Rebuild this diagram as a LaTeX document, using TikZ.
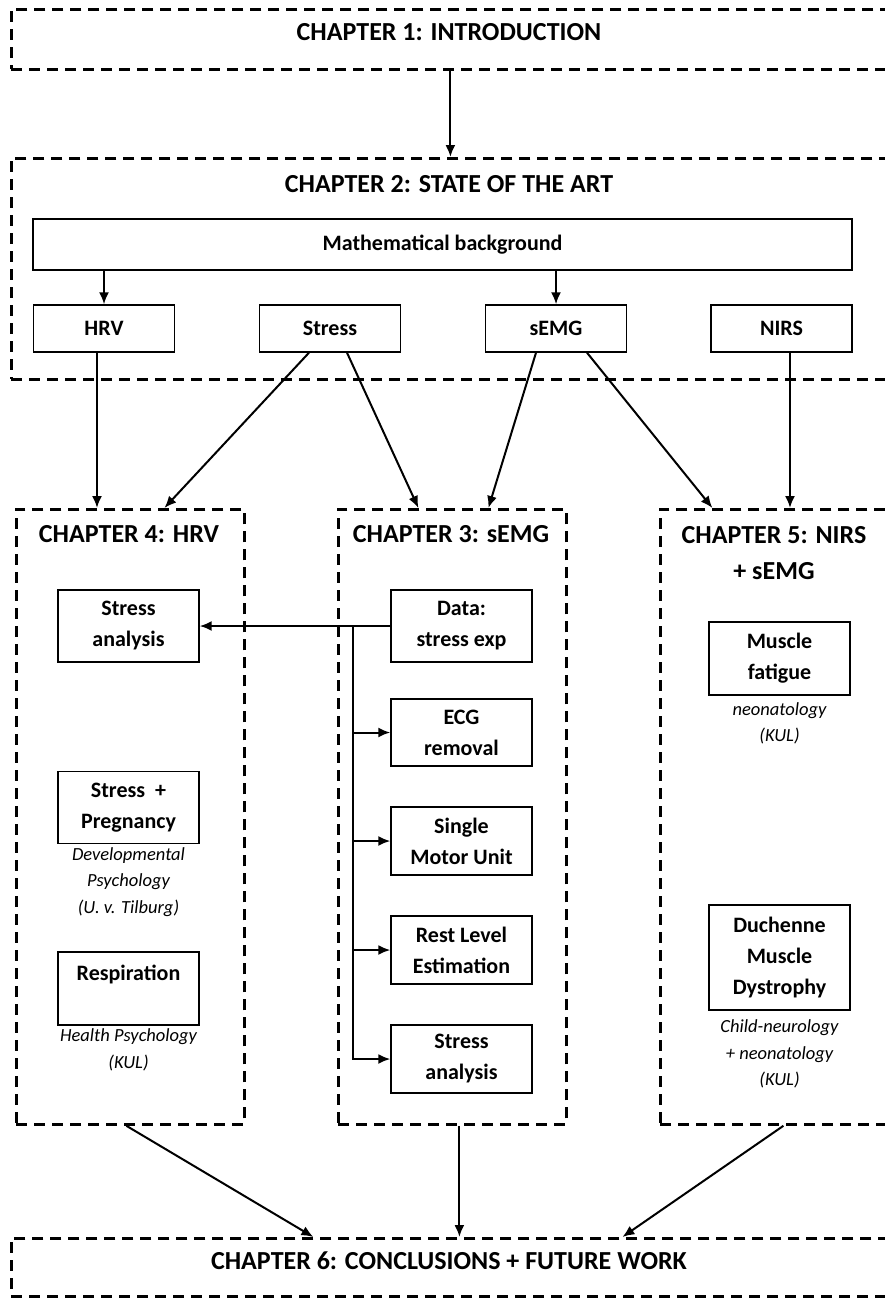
\documentclass[tikz,border=0pt]{standalone}
\usepackage{fontspec}
\setmainfont{Carlito}
\usetikzlibrary{arrows.meta,positioning,calc}

\begin{document}
\begin{tikzpicture}[
        x=1pt, y=-1pt,
        chapter/.style={draw, line width=2.8pt, dash pattern=on 11pt off 7pt, anchor=north west, inner sep=0pt},
        title/.style={font=\fontsize{26}{36}\selectfont\bfseries, align=center},
        box/.style={draw, line width=1.4pt, minimum width=141pt, minimum height=72pt, inner sep=0pt, align=center, font=\fontsize{22}{31}\selectfont\bfseries},
        note/.style={font=\fontsize{18.5}{26.5}\selectfont\itshape, align=center},
        arrow/.style={draw, -{Latex[length=12pt, width=10pt]}, line width=2pt},
    ]
    \useasboundingbox (0,0) rectangle (885,1298);
    \clip (0,0) rectangle (885,1298);

    % chapter frames
    \node[chapter, minimum width=878pt, minimum height=60pt] (ch1) at (10,8) {};
    \node[title] (ch1t) at (449,32) {CHAPTER 1: INTRODUCTION};
    \node[chapter, minimum width=878pt, minimum height=221pt] (ch2) at (10,157) {};
    \node[title] (ch2t) at (449,184) {CHAPTER 2: STATE OF THE ART};
    \node[chapter, minimum width=228pt, minimum height=615pt] (ch4) at (15,508) {};
    \node[title] (ch4t) at (129,534) {CHAPTER 4: HRV};
    \node[chapter, minimum width=228pt, minimum height=615pt] (ch3) at (337,508) {};
    \node[title] (ch3t) at (451,534) {CHAPTER 3: sEMG};
    \node[chapter, minimum width=228pt, minimum height=615pt] (ch5) at (659,508) {};
    \node[title] (ch5t) at (774,553) {CHAPTER 5: NIRS\\+ sEMG};
    \node[chapter, minimum width=878pt, minimum height=58pt] (ch6) at (10,1237) {};
    \node[title] (ch6t) at (449,1261) {CHAPTER 6: CONCLUSIONS + FUTURE WORK};

    % state of the art
    \node[box, minimum width=819pt, minimum height=51pt] (math) at (442.5,244.5) {Mathematical background};
    \node[box, minimum height=47pt] (hrv) at (104,328.5) {HRV};
    \node[box, minimum height=47pt] (stress) at (330,328.5) {Stress};
    \node[box, minimum height=47pt] (semg) at (556,328.5) {sEMG};
    \node[box, minimum height=47pt] (nirs) at (781.5,328.5) {NIRS};

    % HRV
    \node[box] (hrvstress) at (128.5,626) {Stress\\analysis};
    \node[box] (preg) at (128.5,807.5) {Stress~~+\\Pregnancy};
    \node[note] (pregnote) at (128.5,882) {Developmental\\Psychology\\(U. v. Tilburg)};
    \node[box, minimum height=73pt] (resp) at (128.5,988.5) {Respiration\\\mbox{}};
    \node[note] (respnote) at (128.5,1050) {Health Psychology\\(KUL)};

    % sEMG
    \node[box] (data) at (461.5,626) {Data:\\stress exp};
    \node[box, minimum height=67pt] (ecg) at (461.5,732.5) {ECG\\removal};
    \node[box, minimum height=68pt] (smu) at (461.5,841) {Single\\Motor Unit};
    \node[box, minimum height=68pt] (rest) at (461.5,950) {Rest Level\\Estimation};
    \node[box, minimum height=68pt] (sana) at (461.5,1059) {Stress\\analysis};
    \coordinate (split) at (353,626);

    % NIRS + sEMG
    \node[box, minimum height=73pt] (fatigue) at (779.5,658.5) {Muscle\\fatigue};
    \node[note] (fatiguenote) at (779.5,723.5) {neonatology\\(KUL)};
    \node[box, minimum height=105pt] (dmd) at (779.5,957.5) {Duchenne\\Muscle\\Dystrophy};
    \node[note] (dmdnote) at (779.5,1054) {Child-neurology\\+ neonatology\\(KUL)};

    % connectors
    \draw[arrow] (ch1.south) -- (ch2.north);
    \draw[arrow] (math.south -| hrv.north) -- (hrv.north);
    \draw[arrow] (math.south -| semg.north) -- (semg.north);
    \draw[arrow] ([xshift=-7pt]hrv.south) -- ([xshift=-7pt]hrv.south |- ch4.north);
    \draw[arrow] ([xshift=-21pt]stress.south) -- ([xshift=34pt]ch4.north);
    \draw[arrow] ([xshift=17pt]stress.south) -- ([xshift=-34pt]ch3.north);
    \draw[arrow] ([xshift=-20pt]semg.south) -- ([xshift=36pt]ch3.north);
    \draw[arrow] ([xshift=31pt]semg.south) -- ([xshift=-62pt]ch5.north);
    \draw[arrow] ([xshift=8.5pt]nirs.south) -- ([xshift=8.5pt]nirs.south |- ch5.north);

    \draw[arrow] (data.west) -- (data.west -| hrvstress.east);
    \draw[arrow] (split) |- (ecg.west);
    \draw[arrow] (split) |- (smu.west);
    \draw[arrow] (split) |- (rest.west);
    \draw[arrow] (split) |- (sana.west);

    \draw[arrow] ([xshift=-4pt]ch4.south) -- ([xshift=-137pt]ch6.north);
    \draw[arrow] ([xshift=7pt]ch3.south) -- ([xshift=7pt]ch3.south |- ch6.north);
    \draw[arrow] ([xshift=9pt]ch5.south) -- ([xshift=172pt]ch6.north);
\end{tikzpicture}
\end{document}
